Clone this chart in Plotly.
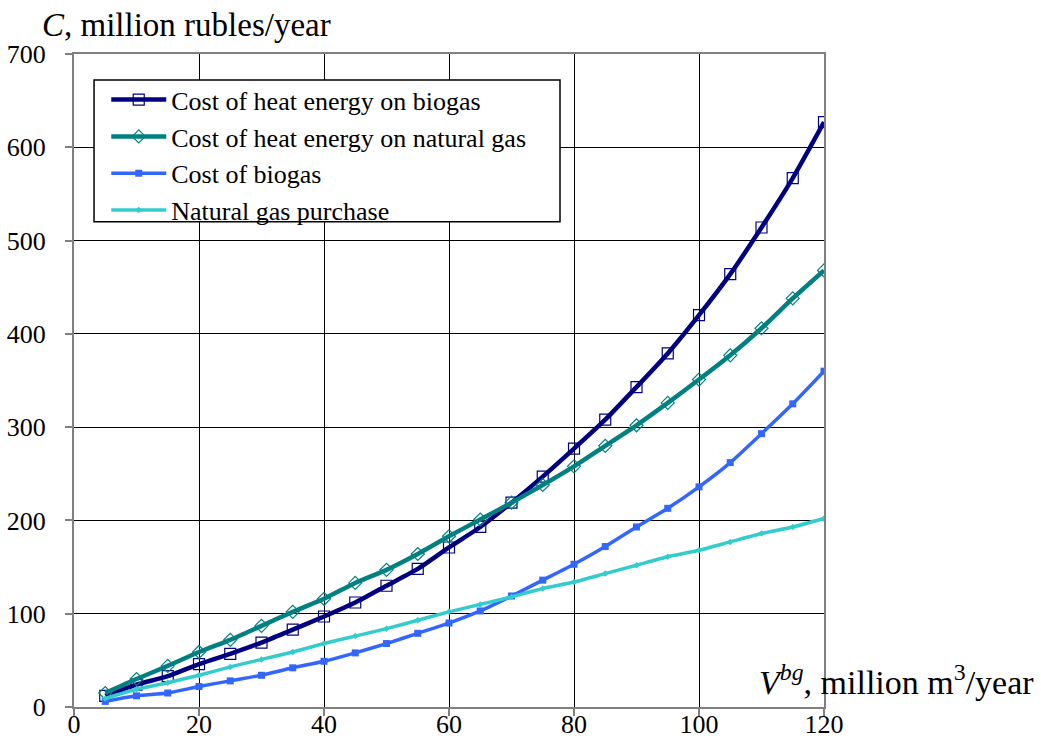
import plotly.graph_objects as go

# Annual biogas / natural gas volume, million m3/year
volume = [5, 10, 15, 20, 25, 30, 35, 40, 45, 50, 55, 60,
          65, 70, 75, 80, 85, 90, 95, 100, 105, 110, 115, 120]

# Costs, million rubles/year
heat_biogas = [12, 24, 33, 46, 57, 69, 83, 97, 112, 130, 148, 171,
               193, 219, 247, 277, 308, 343, 379, 420, 464, 514, 567, 627]
heat_natgas = [15, 30, 44, 59, 72, 87, 102, 116, 133, 147, 164, 183,
               201, 219, 238, 258, 280, 302, 326, 351, 377, 406, 438, 468]
biogas_cost = [6, 12, 15, 22, 28, 34, 42, 49, 58, 68, 79, 90,
               103, 119, 136, 153, 172, 193, 213, 236, 262, 293, 325, 360]
natgas_purchase = [9, 19, 26, 34, 43, 51, 59, 68, 76, 84, 93, 102,
                   110, 118, 127, 134, 143, 152, 161, 168, 177, 186, 193, 202]

x_ticks = [0, 20, 40, 60, 80, 100, 120]
y_ticks = [0, 100, 200, 300, 400, 500, 600, 700]

FONT = "Liberation Serif"

series = [
    ("Cost of heat energy on biogas", heat_biogas, "#000080", 4.5,
     dict(symbol="square-open", size=11, color="#000080", line=dict(width=1.2, color="#000080"))),
    ("Cost of heat energy on natural gas", heat_natgas, "#008080", 4.5,
     dict(symbol="diamond-open", size=10, color="#008080", line=dict(width=1.2, color="#008080"))),
    ("Cost of biogas", biogas_cost, "#3366FF", 3.5,
     dict(symbol="square", size=7, color="#3366FF")),
    ("Natural gas purchase", natgas_purchase, "#33CCCC", 3.5,
     dict(symbol="diamond", size=5, color="#33CCCC")),
]

fig = go.Figure()
for name, values, color, width, marker in series:
    fig.add_trace(go.Scatter(
        x=volume, y=values, name=name, mode="lines+markers",
        line=dict(color=color, width=width, shape="spline", smoothing=0.6),
        marker=marker,
    ))

axis_common = dict(
    showgrid=True, gridcolor="#000000", gridwidth=1,
    showline=True, linecolor="#808080", linewidth=2, mirror=True,
    ticks="outside", ticklen=7, tickcolor="#808080", tickwidth=1.5,
    zeroline=False, automargin=False,
    tickfont=dict(family=FONT, size=26, color="#000000"),
)

# Legend frame (white box over the grid), legend entries sit inside it
legend_box = dict(type="rect", xref="paper", yref="paper",
                  x0=0.0267, x1=0.648, y0=0.743, y1=0.960,
                  fillcolor="#FFFFFF", line=dict(color="#000000", width=1.5),
                  layer="above")

fig.update_layout(
    width=1041, height=751,
    margin=dict(l=74, r=217, t=54, b=44),
    plot_bgcolor="#FFFFFF", paper_bgcolor="#FFFFFF",
    font=dict(family=FONT, color="#000000"),
    xaxis=dict(range=[0, 120], tickvals=x_ticks, ticklabelstandoff=-14, **axis_common),
    yaxis=dict(range=[0, 700], tickvals=y_ticks, ticklabelstandoff=14, **axis_common),
    shapes=[legend_box],
    legend=dict(
        x=0.043, y=0.966, xanchor="left", yanchor="top",
        bgcolor="rgba(0,0,0,0)", borderwidth=0,
        font=dict(family=FONT, size=26, color="#000000"),
        itemwidth=55, tracegroupgap=0,
    ),
    annotations=[
        dict(text="<i>C</i>, million rubles/year", xref="paper", yref="paper",
             x=-0.046, y=1.044, xanchor="left", yanchor="middle", showarrow=False,
             font=dict(family=FONT, size=33, color="#000000")),
        dict(text="<i>V</i><sup><i>bg</i></sup>, million m<sup>3</sup>/year",
             xref="paper", yref="paper", x=1.283, y=0.041,
             xanchor="right", yanchor="middle", showarrow=False,
             font=dict(family=FONT, size=34, color="#000000")),
    ],
)

fig.write_html("out.html")
